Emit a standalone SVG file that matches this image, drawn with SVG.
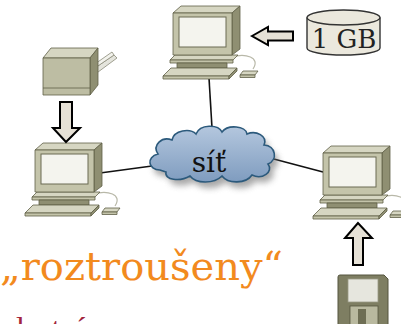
<svg xmlns="http://www.w3.org/2000/svg" xmlns:xlink="http://www.w3.org/1999/xlink" width="401" height="324" viewBox="0 0 401 324">
  <style>
    .edge { stroke: #111; stroke-width: 1.6; fill: none; }
    .arrow { fill: #e6e1d6; stroke: #000; stroke-width: 2; stroke-linejoin: miter; }
    .olive { stroke: #5f5f47; stroke-width: 0.8; stroke-linejoin: round; }
    .face { fill: #c4c4aa; }
    .face-top { fill: #d6d6c2; }
    .face-side { fill: #8f8f72; }
    .screen { fill: #f4f4ee; stroke: #6a6a52; stroke-width: 1; }
    .serif { font-family: "DejaVu Serif", "Liberation Serif", serif; }
  </style>
  <defs>
    <linearGradient id="cloudFill" x1="0" y1="0" x2="0" y2="1">
      <stop offset="0" stop-color="#b4c7de"/>
      <stop offset="1" stop-color="#7f9cbf"/>
    </linearGradient>
    <filter id="soft" x="-20%" y="-20%" width="140%" height="140%">
      <feGaussianBlur stdDeviation="3"/>
    </filter>
    <!-- desktop computer: monitor, base plate, keyboard, mouse; origin = monitor front top-left -->
    <g id="pc">
      <path d="M59,44 C72,40 88,44 80,56" fill="none" stroke="#b8b8a8" stroke-width="1.2"/>
      <!-- base plate -->
      <polygon class="olive face-top" points="-3,47 60,47 65,42 2,42"/>
      <rect class="olive face" x="-3" y="47" width="63" height="3"/>
      <!-- neck -->
      <rect class="olive face-side" x="4" y="50" width="50" height="5"/>
      <!-- keyboard -->
      <polygon class="olive face-top" points="-10,63 56,63 64,55 -2,55"/>
      <polygon class="olive face" points="-10,63 56,63 56,66 -10,66"/>
      <polygon class="olive face-side" points="56,63 64,55 64,58 56,66"/>
      <!-- mouse -->
      <polygon class="olive face-top" points="67,62 82,62 85,58 70,58"/>
      <rect class="olive face" x="67" y="62" width="15" height="2.5"/>
      <!-- monitor -->
      <polygon class="olive face-top" points="0,0 8,-7 67,-7 59,0"/>
      <polygon class="olive face-side" points="59,0 67,-7 67,36 59,42"/>
      <rect class="olive face" x="0" y="0" width="59" height="42"/>
      <rect class="screen" x="6" y="4" width="47" height="30"/>
    </g>
  </defs>

  <!-- connectors -->
  <g id="connectors">
    <line class="edge" x1="209" y1="78" x2="212" y2="128"/>
    <line class="edge" x1="100" y1="173" x2="152" y2="166"/>
    <line class="edge" x1="270" y1="158" x2="323" y2="172"/>
  </g>

  <!-- network cloud -->
  <g id="cloud">
    <path transform="translate(4,6)" filter="url(#soft)" fill="#6e6e6e" opacity="0.6"
      d="M160,170 C148,170 146,157 158,154 C152,145 162,136 172,140 C174,130 190,128 196,134 C200,124 218,124 222,132 C228,124 246,126 247,134 C256,130 268,136 264,145 C276,146 278,160 268,164 C274,172 262,180 252,175 C246,184 228,184 222,176 C214,184 196,184 190,176 C180,182 164,180 166,172 Z"/>
    <path fill="url(#cloudFill)" stroke="#2c5a7c" stroke-width="1.6"
      d="M160,170 C148,170 146,157 158,154 C152,145 162,136 172,140 C174,130 190,128 196,134 C200,124 218,124 222,132 C228,124 246,126 247,134 C256,130 268,136 264,145 C276,146 278,160 268,164 C274,172 262,180 252,175 C246,184 228,184 222,176 C214,184 196,184 190,176 C180,182 164,180 166,172 Z"/>
    <text class="serif" x="209" y="172" font-size="28" text-anchor="middle" fill="#111">síť</text>
  </g>

  <!-- computers -->
  <g id="pc-top"><use xlink:href="#pc" href="#pc" transform="translate(173,13)"/></g>
  <g id="pc-left"><use xlink:href="#pc" href="#pc" transform="translate(35,150)"/></g>
  <g id="pc-right"><use xlink:href="#pc" href="#pc" transform="translate(323,153)"/></g>

  <!-- disk 1 GB -->
  <g id="disk">
    <path d="M307,17.5 L307,48 A36.5,7 0 0 0 380,48 L380,17.5" fill="#ebe8dd" stroke="#333" stroke-width="1.4"/>
    <ellipse cx="343.5" cy="17.5" rx="36.5" ry="7.5" fill="#ebe8dd" stroke="#333" stroke-width="1.4"/>
    <text class="serif" x="344" y="48" font-size="26" text-anchor="middle" fill="#222">1 GB</text>
  </g>

  <!-- printer / scanner -->
  <g id="printer">
    <polygon points="92,70 114,55 117,58 94,75" fill="#e4e4dc" stroke="#8a8a78" stroke-width="0.8"/>
    <polygon points="92,66 112,52 114,55 92,70" fill="#f2f2ec" stroke="#8a8a78" stroke-width="0.8"/>
    <polygon class="olive face-top" points="43,58 51,48 98,48 90,58"/>
    <polygon class="olive face-side" points="90,58 98,48 98,85 90,95"/>
    <rect class="olive" x="43" y="58" width="47" height="37" fill="#bdbda3"/>
    <line x1="43" y1="88" x2="90" y2="88" stroke="#5f5f47" stroke-width="0.8"/>
  </g>

  <!-- floppy disk -->
  <g id="floppy">
    <path d="M340,275 L384,275 L388,279 L388,330 L338,330 L338,277 Q338,275 340,275 Z" fill="#7e7e62" stroke="#55553f" stroke-width="1"/>
    <rect x="348" y="279" width="30" height="23" fill="#e6e6de" stroke="#9a9a86" stroke-width="0.8"/>
    <rect x="350" y="306" width="28" height="24" fill="#b9b99f" stroke="#55553f" stroke-width="0.8"/>
    <rect x="358" y="309" width="8" height="18" fill="#6e6e54"/>
  </g>

  <!-- transfer arrows -->
  <g id="arrows">
    <polygon class="arrow" points="252,36 268,27 268,31.5 293,31.5 293,40.5 268,40.5 268,45"/>
    <polygon class="arrow" points="66,142 53,128 60,128 60,102 72,102 72,128 80,128"/>
    <polygon class="arrow" points="358,223 345,238 353,238 353,265 363,265 363,238 372,238"/>
  </g>

  <!-- caption; the second line runs past the bottom edge -->
  <g id="caption">
    <text class="serif" x="0" y="280" font-size="40" fill="#f28a1e">„roztroušeny“</text>
    <text x="0" y="339" font-size="32" font-family="'Liberation Serif', serif" fill="#a3243c">vlastní</text>
  </g>
</svg>
